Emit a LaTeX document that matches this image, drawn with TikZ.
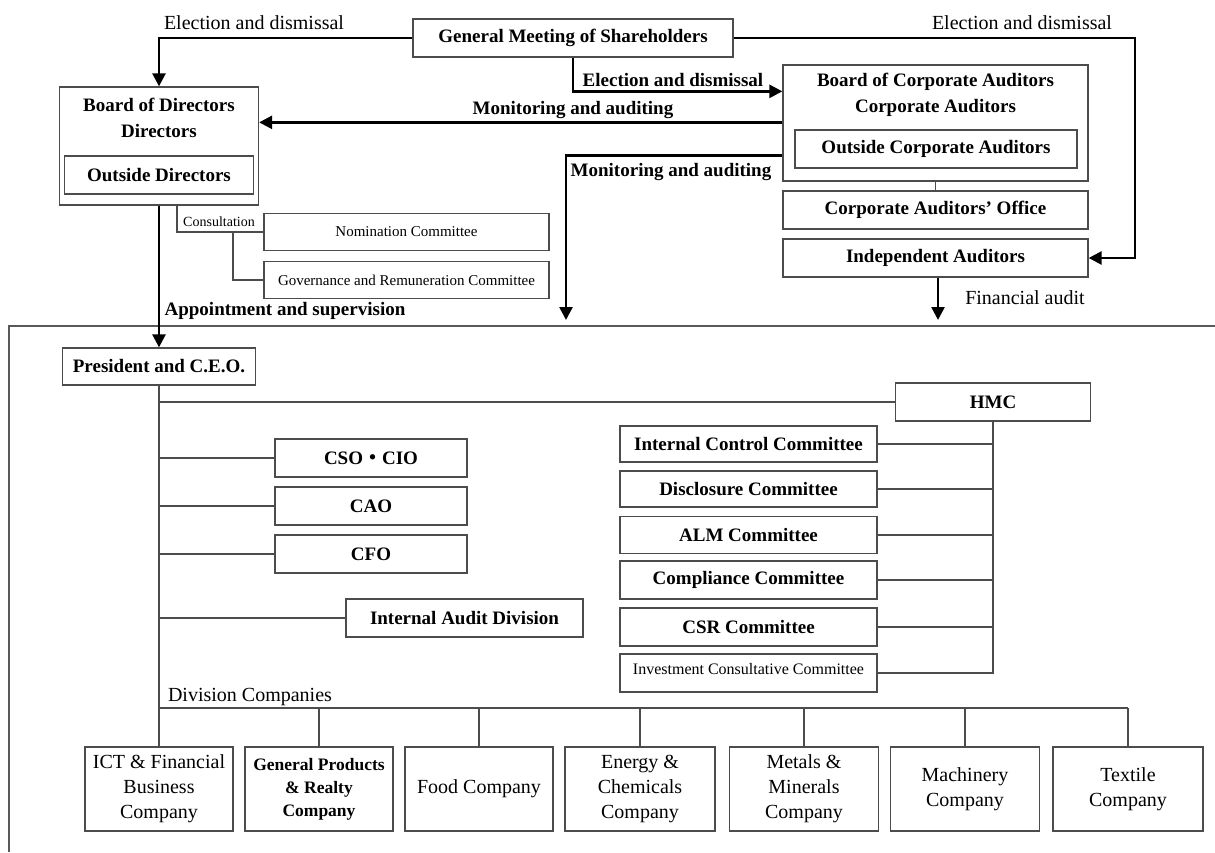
\documentclass[tikz,border=0pt]{standalone}
\usepackage{fontspec}
\setmainfont{Liberation Serif}
\newfontfamily\cjkfont{Noto Sans CJK JP}
\usetikzlibrary{arrows.meta,calc}
\begin{document}
\begin{tikzpicture}[x=1pt,y=-1pt,
  box/.style={draw=black!70, line width=1.3pt, inner sep=0pt, align=center, fill=white},
  hv/.style={font=\fontsize{19}{26}\selectfont\bfseries},
  lt/.style={font=\fontsize{20}{25}\selectfont},
  sm/.style={font=\fontsize{15}{18}\selectfont},
  gp/.style={font=\fontsize{17.5}{23}\selectfont\bfseries},
  lbl/.style={inner sep=0pt, align=center},
  link/.style={draw=black!70, line width=1.4pt},
  arr/.style={line width=2.6pt, -{Triangle[length=13pt,width=13pt]}},
  frameline/.style={draw=black!65, line width=1.6pt},
  comp/.style={box, lt, minimum height=84pt}]
\useasboundingbox (0,0) rectangle (1215,852);

% frame
\draw[frameline] (1215,326) -- (9,326) -- (9,852);

% top part
\node[box,hv,minimum width=320pt,minimum height=38pt] (gm) at (573,38) {General Meeting of Shareholders};
\node[box,minimum width=199pt,minimum height=118pt] (bod) at (159,146) {};
\node[lbl,hv] (bodt) at (159,118) {Board of Directors\\Directors};
\node[box,hv,minimum width=189pt,minimum height=38pt] (od) at (159,175) {Outside Directors};

\node[box,minimum width=305pt,minimum height=116pt] (bca) at (935.5,123) {};
\node[lbl,hv] (bcat) at (935.5,95) {Board of Corporate Auditors\\Corporate Auditors};
\node[box,hv,minimum width=282pt,minimum height=38pt] (oca) at (936,149) {Outside Corporate Auditors};
\node[box,hv,minimum width=305pt,minimum height=38pt] (office) at (935.5,210) {Corporate Auditors’ Office};
\node[box,hv,minimum width=305pt,minimum height=38pt] (ia) at (935.5,258) {Independent Auditors};

\node[box,sm,minimum width=285pt,minimum height=37pt] (nom) at (406.5,232) {Nomination Committee};
\node[box,sm,minimum width=285pt,minimum height=37pt] (gov) at (406.5,280) {Governance and Remuneration Committee};

% executive part
\node[box,hv,minimum width=193pt,minimum height=37pt] (pres) at (159,366.5) {President and C.E.O.};
\node[box,hv,minimum width=195pt,minimum height=38pt] (hmc) at (993,402) {HMC};
\node[box,hv,minimum width=192pt,minimum height=38pt] (cso) at (371,458) {CSO{\cjkfont ・}CIO};
\node[box,hv,minimum width=192pt,minimum height=38pt] (cao) at (371,506) {CAO};
\node[box,hv,minimum width=192pt,minimum height=38pt] (cfo) at (371,554) {CFO};
\node[box,hv,minimum width=237pt,minimum height=38pt] (iad) at (464.5,618) {Internal Audit Division};

\node[box,hv,minimum width=257pt,minimum height=36pt] (icc) at (748.5,444) {Internal Control Committee};
\node[box,hv,minimum width=257pt,minimum height=36pt] (disc) at (748.5,489) {Disclosure Committee};
\node[box,hv,minimum width=257pt,minimum height=37pt] (alm) at (748.5,535) {ALM Committee};
\node[box,hv,minimum width=257pt,minimum height=38pt] (cmp) at (748.5,580) {Compliance Committee};
\node[box,hv,minimum width=257pt,minimum height=38pt] (csr) at (748.5,627) {CSR Committee};
\node[box,minimum width=257pt,minimum height=38pt] (inv) at (748.5,673) {};
\node[lbl,font=\fontsize{16}{19}\selectfont] (invt) at (748.5,669) {Investment Consultative Committee};

% companies
\node[comp,minimum width=148pt] (ict) at (159,789) {ICT \& Financial\\Business\\Company};
\node[comp,gp,minimum width=148pt] (gpr) at (319,789) {General Products\\\& Realty\\Company};
\node[comp,minimum width=148pt] (food) at (479,789) {Food Company};
\node[comp,minimum width=150pt] (ene) at (640,789) {Energy \&\\Chemicals\\Company};
\node[comp,minimum width=149pt] (met) at (804,789) {Metals \&\\Minerals\\Company};
\node[comp,minimum width=149pt] (mac) at (965,789) {Machinery\\Company};
\node[comp,minimum width=150pt] (tex) at (1128,789) {Textile\\Company};

% labels
\node[lbl,lt] (e1) at (254,23) {Election and dismissal};
\node[lbl,lt] (e2) at (1022,23) {Election and dismissal};
\node[lbl,hv] (e3) at (673,80) {Election and dismissal};
\node[lbl,hv] (mo1) at (573,110) {Monitoring and auditing};
\node[lbl,hv] (mo2) at (671,172) {Monitoring and auditing};
\node[lbl,hv] (ap) at (285,311) {Appointment and supervision};
\node[lbl,lt] (fa) at (1025,298) {Financial audit};
\node[lbl,font=\fontsize{14}{16}\selectfont] (cons) at (219,222) {Consultation};
\node[lbl,lt] (dc) at (250,697) {Division Companies};

% thick arrows
\draw[arr] (gm.west) -| (bod.north);
\coordinate (cr) at (1135,38);
\draw[arr] (gm.east) -- (cr) |- (ia.east);
\coordinate (e3e) at ($(bca.north west)+(0,27)$);
\draw[arr] (gm.south) |- (e3e);
\coordinate (m1) at ($(bca.north west)+(0,58)$);
\draw[arr] (m1) -- (m1 -| bod.east);
\coordinate (m2) at ($(bca.north west)+(0,91)$);
\coordinate (m2e) at (566,320);
\draw[arr] (m2) -| (m2e);
\coordinate (fae) at (938,320);
\draw[arr] (ia.south -| fae) -- (fae);
\draw[arr] (bod.south) -- (pres.north);

% thin links
\draw[link] (bca.south) -- (office.north);
\coordinate (cs) at ($(bod.south west)+(118,0)$);
\draw[link] (cs) |- (nom.west);
\coordinate (cb) at (233,232);
\draw[link] (cb) |- (gov.west);

\coordinate (dv) at (159,708);
\draw[link] (pres.south) -- (dv) -- (dv -| tex.north);
\foreach \c in {ict,gpr,food,ene,met,mac,tex}{
  \draw[link] (\c.north |- dv) -- (\c.north);
}
\draw[link] (pres.south |- hmc.west) -- (hmc.west);
\foreach \c in {cso,cao,cfo,iad}{
  \draw[link] (pres.south |- \c.west) -- (\c.west);
}
\draw[link] (hmc.south) |- (inv.east);
\foreach \c in {icc,disc,alm,cmp,csr}{
  \draw[link] (hmc.south |- \c.east) -- (\c.east);
}
\end{tikzpicture}
\end{document}
